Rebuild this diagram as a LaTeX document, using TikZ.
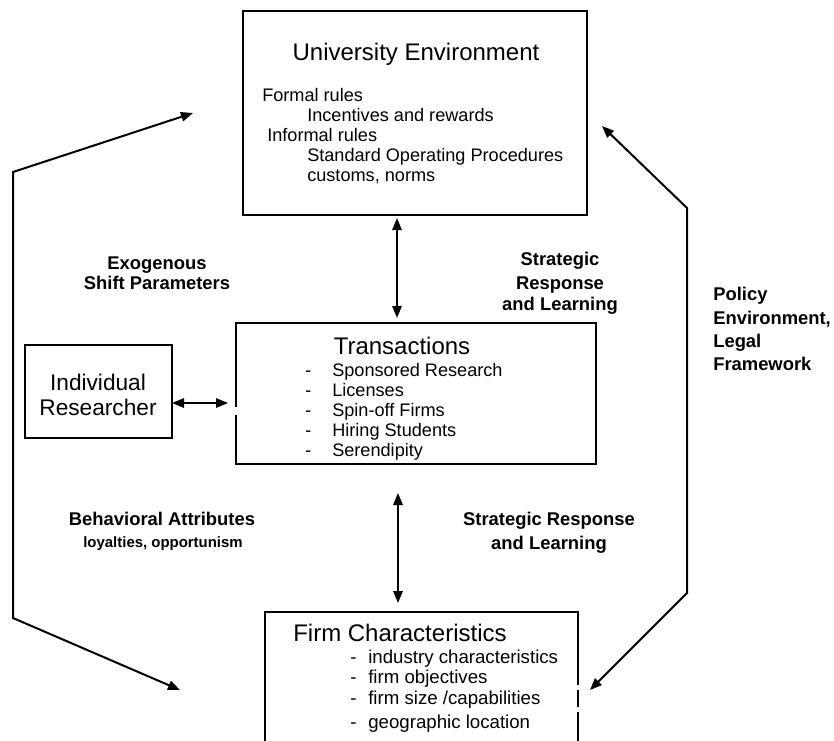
\documentclass[tikz,border=0pt]{standalone}
\usepackage{fontspec}
\setmainfont{Liberation Sans}
\usetikzlibrary{arrows.meta}
\begin{document}
\begin{tikzpicture}[x=0.75pt,y=-0.75pt,
  box/.style={draw, line width=1.9pt, inner sep=0pt},
  ttl/.style={font=\fontsize{18}{20}\selectfont, anchor=base, inner sep=0pt},
  ttlw/.style={font=\fontsize{18}{20}\selectfont, anchor=base west, inner sep=0pt},
  itm/.style={font=\fontsize{13.6}{15}\selectfont, anchor=base west, inner sep=0pt},
  fitm/.style={font=\fontsize{14}{15}\selectfont, anchor=base west, inner sep=0pt},
  lbl/.style={font=\bfseries\fontsize{13.8}{16}\selectfont, anchor=base, inner sep=0pt},
  lblw/.style={font=\bfseries\fontsize{13.8}{16}\selectfont, anchor=base west, inner sep=0pt},
  sml/.style={font=\bfseries\fontsize{11.2}{13}\selectfont, anchor=base, inner sep=0pt},
  ind/.style={font=\fontsize{17}{19}\selectfont, anchor=base, inner sep=0pt},
  arr/.style={line width=1.5pt, {Triangle[length=9pt,width=7pt]}-{Triangle[length=9pt,width=7pt]}}
]
\useasboundingbox (0,0) rectangle (834,740);

% boxes
\node[box, minimum width=258pt, minimum height=153pt] (univ) at (415,113) {};
\node[box, minimum width=110.25pt, minimum height=69.75pt] (indiv) at (98.5,391.5) {};
\node[box, minimum width=270pt, minimum height=105.75pt] (trans) at (416,393.5) {};
\node[box, minimum width=234.75pt, minimum height=118.5pt] (firm) at (421.5,691) {};

% small breaks in the box edges
\fill[white] (232,407) rectangle (240,415);
\fill[white] (574,685) rectangle (582,690);
\fill[white] (574,707) rectangle (582,712);

% University Environment
\node[ttl] (ut) at (416,60) {University Environment};
\node[itm] (u1) at (262,101) {Formal rules};
\node[itm] (u2) at (307,121) {Incentives and rewards};
\node[itm] (u3) at (267,141) {Informal rules};
\node[itm] (u4) at (307,161) {Standard Operating Procedures};
\node[itm] (u5) at (307,181) {customs, norms};

% Individual Researcher
\node[ind] (i1) at (98,390) {Individual};
\node[ind] (i2) at (98,415) {Researcher};

% Transactions
\node[ttl] (tt) at (402,354) {Transactions};
\foreach \n/\y/\t in {1/376/Sponsored Research, 2/396/Licenses, 3/416/Spin-off Firms, 4/436/Hiring Students, 5/456/Serendipity}{
  \node[itm] (td\n) at (305,\y) {-};
  \node[itm] (tx\n) at (332,\y) {\t};
}

% Firm Characteristics
\node[ttlw] (ft) at (293,641) {Firm Characteristics};
\foreach \n/\y/\t in {1/663/{industry characteristics}, 2/683/{firm objectives}, 3/704/{firm size /capabilities}, 4/728/{geographic location}}{
  \node[fitm] (fd\n) at (350,\y) {-};
  \node[fitm] (fx\n) at (368,\y) {\t};
}

% outer labels
\node[lbl] (ex1) at (157,269) {Exogenous};
\node[lbl] (ex2) at (157,289) {Shift Parameters};
\node[lbl] (s1) at (560,265) {Strategic};
\node[lbl] (s2) at (560,289) {Response};
\node[lbl] (s3) at (560,310) {and Learning};
\node[lblw] (p1) at (713,300) {Policy};
\node[lblw] (p2) at (713,324) {Environment,};
\node[lblw] (p3) at (713,347) {Legal};
\node[lblw] (p4) at (713,370) {Framework};
\node[lbl] (b1) at (162,525) {Behavioral Attributes};
\node[sml] (b2) at (163,547) {loyalties, opportunism};
\node[lbl] (sl1) at (549,525) {Strategic Response};
\node[lbl] (sl2) at (549,549) {and Learning};

% connector end points
\coordinate (uTop) at (397,218);
\coordinate (tTop) at (397,318);
\coordinate (tBot) at (398,493);
\coordinate (fTop) at (398,603);
\coordinate (iR) at (172,403);
\coordinate (tL) at (228,403);
\coordinate (lA) at (193,113);
\coordinate (lB) at (13,172);
\coordinate (lC) at (13,618);
\coordinate (lD) at (180,690);
\coordinate (rA) at (602,126);
\coordinate (rB) at (687,208);
\coordinate (rC) at (687,593);
\coordinate (rD) at (590,690);

\draw[arr] (uTop) -- (tTop);
\draw[arr] (tBot) -- (fTop);
\draw[arr] (iR) -- (tL);
\draw[arr] (lA) -- (lB) -- (lC) -- (lD);
\draw[arr] (rA) -- (rB) -- (rC) -- (rD);
\end{tikzpicture}
\end{document}
